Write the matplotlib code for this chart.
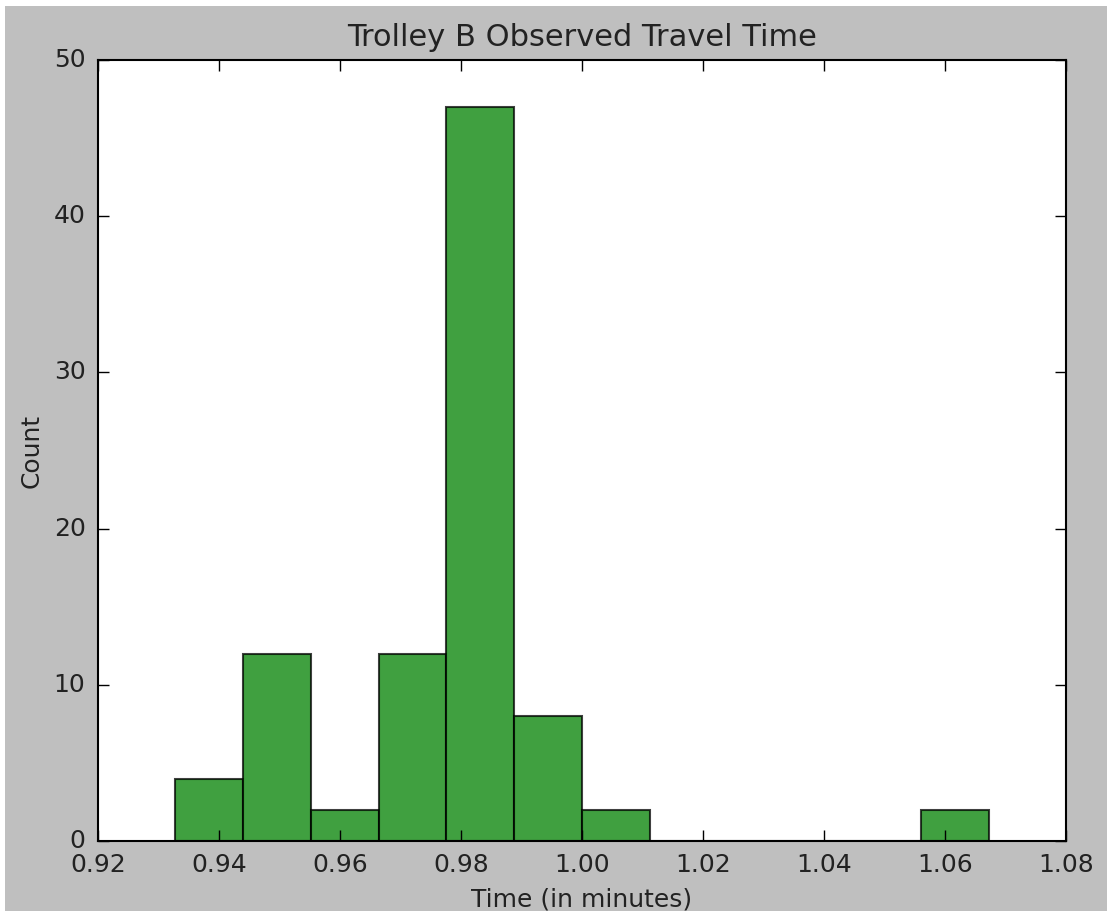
import matplotlib
matplotlib.use("Agg")
import matplotlib.pyplot as plt
import numpy as np
from matplotlib.patches import Rectangle

# observed travel times, binned into 12 equal bins (minutes)
bin_edges = np.linspace(0.9328, 1.0672, 13)
counts = [4, 12, 2, 12, 47, 8, 2, 0, 0, 0, 0, 2]
x_ticks = [0.92, 0.94, 0.96, 0.98, 1.00, 1.02, 1.04, 1.06, 1.08]
y_ticks = [0, 10, 20, 30, 40, 50]

plt.style.use("classic")
plt.rcParams["font.family"] = "DejaVu Sans"

fig = plt.figure(figsize=(11.09, 9.11), dpi=100, facecolor="#bfbfbf")
ax = fig.add_axes([98 / 1109, 1 - 841 / 911, 968 / 1109, 781 / 911])

ax.hist(bin_edges[:-1], bins=bin_edges, weights=counts,
        facecolor="green", edgecolor="black", linewidth=1.5, alpha=0.75)

ax.set_xlim(0.92, 1.08)
ax.set_ylim(0, 50)
ax.set_xticks(x_ticks)
ax.set_xticklabels(["%.2f" % t for t in x_ticks])
ax.set_yticks(y_ticks)
ax.tick_params(axis="both", which="major", labelsize=18, length=8, width=1,
               direction="in", top=True, right=True, pad=9,
               labelcolor="#222222")
for spine in ax.spines.values():
    spine.set_linewidth(1.5)

ax.set_title("Trolley B Observed Travel Time", fontsize=22, pad=10, color="#222222")
ax.set_xlabel("Time (in minutes)", fontsize=18, labelpad=7, color="#222222")
ax.set_ylabel("Count", fontsize=18, labelpad=7, color="#222222")

# thin white margin round the figure
for r in [(0, 0, 5 / 1109, 1), (0, 1 - 6 / 911, 1, 6 / 911), (1 - 2 / 1109, 0, 2 / 1109, 1)]:
    fig.patches.append(Rectangle(r[:2], r[2], r[3], transform=fig.transFigure,
                                 facecolor="white", edgecolor="none", zorder=10))

fig.savefig("out.png", dpi=100, facecolor=fig.get_facecolor())
